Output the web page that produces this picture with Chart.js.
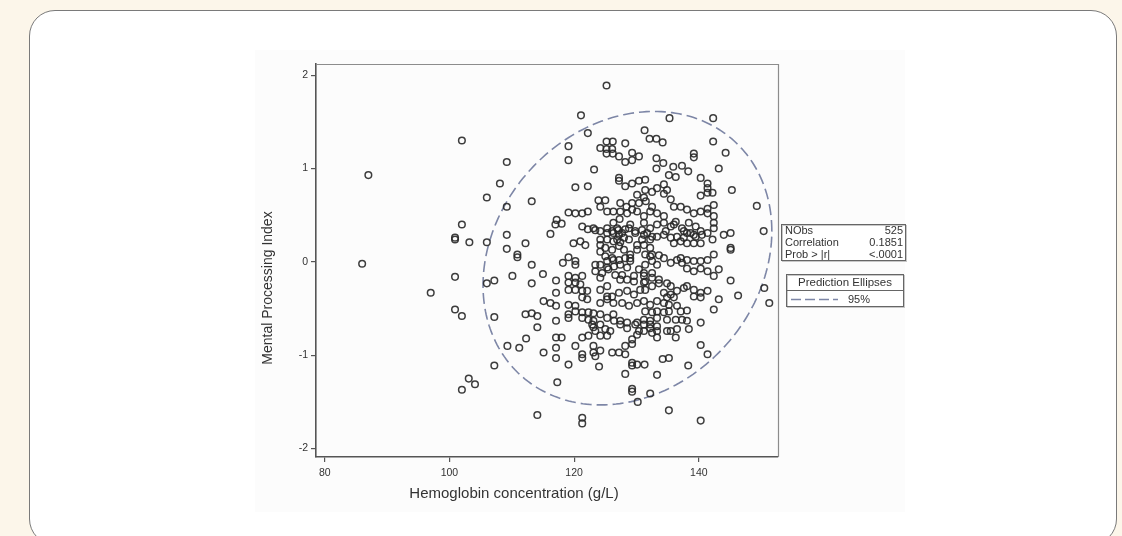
<!DOCTYPE html>
<html><head><meta charset="utf-8">
<script src="https://cdn.jsdelivr.net/npm/chart.js@4/dist/chart.umd.min.js"></script>
<style>
html,body{margin:0;padding:0;width:1122px;height:536px;overflow:hidden;background:#fcf6ea;}
#card{position:absolute;left:29px;top:10px;width:1086px;height:533px;border:1.5px solid #7a7a7a;border-radius:26px;background:#fff;}
#fig{position:absolute;left:255px;top:50px;width:650px;height:462px;background:#fcfcfc;}
#wrap{position:absolute;left:0;top:0;width:1122px;height:536px;}
</style></head><body>
<div id="card"></div><div id="fig"></div>
<div id="wrap"><canvas id="c" width="1122" height="536"></canvas></div>
<script>
// ---- data: [hemoglobin g/L, mental processing index] ----
const outerObs = [[86,-0.02],[87,0.93],[97,-0.33],[102,1.30],[100.9,0.26],[100.9,0.24],[102,0.40],[103.2,0.21],[100.9,-0.16],[100.9,-0.51],[102,-0.58],[102,-1.37],[103.1,-1.25],[104.1,-1.31],[106,-0.23],[107.2,-0.20],[106,0.69],[106,0.21],[108.1,0.84],[109.2,1.07],[109.2,0.59],[109.2,0.29],[109.2,0.14],[107.2,-0.59],[107.2,-1.11],[109.3,-0.90],[110.1,-0.15],[111.2,-0.92],[110.9,0.08],[110.9,0.05],[112.2,0.20],[113.2,0.65],[113.2,-0.03],[113.2,-0.23],[112.3,-0.82],[112.2,-0.56],[113.2,-0.55],[114.1,-0.58],[114.1,-0.70],[115,-0.13],[115.1,-0.97],[114.1,-1.64],[116.2,0.30],[115.1,-0.42],[116.2,-0.44],[117.1,-0.47],[117.1,-0.20],[117.1,-0.33],[117.1,-0.63],[117.1,-0.81],[118.0,-0.81],[117.1,-0.92],[117.1,-1.03],[117.3,-1.29],[119.1,-1.10],[121.3,-1.67],[121.3,-1.73],[124.0,-1.12],[117.2,0.45],[118.0,0.41],[117.0,0.40],[118.2,-0.01],[119.1,0.05],[120.2,0.01],[120.2,-0.03]];
const upperObs = [[125.2,1.89],[121.1,1.57],[135.3,1.54],[142.3,1.54],[122.2,1.38],[131.3,1.41],[119.1,1.24],[125.2,1.29],[126.2,1.29],[132.1,1.32],[133.2,1.32],[134.2,1.28],[142.3,1.29],[124.2,1.22],[125.2,1.21],[126.1,1.21],[125.2,1.16],[126.2,1.16],[127.2,1.13],[128.2,1.27],[129.3,1.17],[130.4,1.13],[128.2,1.07],[129.3,1.09],[139.2,1.16],[139.2,1.12],[144.3,1.17],[119.1,1.09],[133.2,1.11],[134.3,1.06],[133.2,1.00],[143.2,1.00],[123.2,0.99],[135.9,1.02],[137.3,1.03],[135.2,0.93],[136.3,0.91],[138.3,0.97],[127.2,0.90],[127.2,0.87],[130.4,0.87],[131.4,0.88],[129.3,0.84],[128.2,0.81],[120.2,0.80],[122.2,0.81],[140.3,0.90],[141.4,0.84],[141.4,0.79],[141.4,0.74],[140.3,0.71],[142.2,0.74],[145.3,0.77],[149.3,0.60],[150.4,0.33],[131.4,0.77],[132.5,0.75],[130.1,0.72],[131.2,0.69],[133.3,0.79],[134.4,0.83],[134.9,0.77],[134.4,0.73],[135.5,0.67],[128.4,0.59],[129.3,0.63],[130.4,0.63],[131.5,0.65],[132.5,0.59],[127.4,0.54],[128.5,0.52],[129.3,0.56],[123.9,0.66],[125.0,0.66],[124.2,0.59],[125.3,0.54],[126.3,0.54],[127.4,0.63],[121.3,0.52],[122.2,0.54],[119.1,0.53],[120.2,0.52]];
const midUpperObs = [[121.3,0.38],[122.2,0.35],[123.1,0.36],[125.3,0.36],[126.3,0.42],[127.3,0.46],[125.3,0.31],[126.3,0.31],[127.2,0.29],[128.2,0.35],[129.0,0.40],[130.1,0.54],[131.2,0.49],[132.2,0.54],[133.3,0.52],[134.4,0.49],[136.0,0.59],[137.1,0.59],[138.1,0.56],[139.2,0.52],[140.3,0.54],[141.4,0.57],[142.4,0.61],[131.2,0.42],[132.2,0.36],[133.3,0.40],[134.4,0.42],[135.5,0.38],[136.3,0.43],[137.3,0.36],[138.4,0.42],[139.5,0.38],[140.3,0.33],[141.4,0.31],[142.4,0.36],[138.1,0.31],[139.2,0.29],[141.4,0.52],[142.4,0.49],[142.4,0.42],[144.0,0.29],[145.1,0.31],[129.8,0.31],[131.2,0.29],[132.2,0.24],[133.3,0.27],[134.4,0.29],[135.5,0.26],[136.5,0.27],[124.2,0.24],[125.3,0.24],[126.3,0.22],[127.4,0.21],[121.0,0.22],[121.8,0.18],[119.9,0.20],[126.9,0.24],[128.0,0.26],[128.8,0.24],[130.9,0.24],[126.1,0.33],[127.1,0.34],[124.2,0.18],[125.0,0.15],[126.1,0.13],[127.2,0.17],[128.0,0.13],[130.1,0.18],[131.2,0.18],[130.1,0.13],[123.4,0.34],[124.2,0.33],[126.9,0.36],[127.7,0.31],[128.8,0.36],[129.8,0.33],[130.9,0.34],[131.7,0.31],[145.1,0.15],[145.1,0.13],[142.2,0.24],[140.5,0.29],[138.7,0.31],[139.5,0.27],[137.6,0.33],[137.6,0.26],[132.5,0.27],[134.7,0.33],[136.0,0.20],[137.1,0.22],[138.1,0.20],[139.2,0.20],[140.3,0.20],[136.0,0.40],[132.2,0.15]];
const centralObs = [[129.0,0.08],[129.0,0.04],[129.0,0.01],[124.2,0.11],[125.0,0.06],[126.1,0.04],[132.2,0.06],[131.4,-0.03],[132.5,0.01],[133.3,-0.03],[137.1,0.04],[138.1,0.02],[139.2,0.01],[119.1,-0.15],[119.1,-0.22],[120.2,-0.22],[121.0,-0.24],[119.1,-0.30],[120.2,-0.30],[121.3,-0.31],[122.1,-0.31],[123.4,-0.03],[124.2,-0.03],[125.3,0.01],[126.3,0.02],[127.2,0.02],[128.2,0.04],[123.4,-0.10],[124.5,-0.12],[125.5,-0.08],[126.6,-0.14],[127.7,-0.14],[128.5,-0.19],[129.6,-0.15],[131.4,0.08],[132.5,0.08],[133.6,0.07],[130.4,-0.08],[131.2,-0.12],[131.2,-0.15],[132.5,-0.17],[133.6,-0.23],[134.9,-0.23],[134.4,0.04],[135.5,-0.01],[136.5,0.02],[137.3,-0.01],[138.1,-0.07],[139.2,-0.10],[140.3,-0.07],[141.4,-0.10],[142.4,-0.15],[143.2,-0.08],[140.3,0.01],[141.4,0.02],[142.4,0.08],[145.1,-0.20],[146.3,-0.36],[143.2,-0.40],[150.5,-0.28],[151.3,-0.44],[138.1,-0.26],[139.2,-0.30],[140.3,-0.33],[141.4,-0.31],[139.2,-0.37],[140.3,-0.38],[124.2,-0.44],[125.3,-0.40],[126.3,-0.44],[127.7,-0.44],[128.8,-0.47],[130.1,-0.44],[131.2,-0.42],[132.2,-0.46],[133.3,-0.42],[134.4,-0.44],[134.9,-0.38],[136.0,-0.38],[122.1,-0.40],[121.3,-0.38],[119.1,-0.46],[125.3,-0.06],[126.4,-0.05],[127.4,-0.03],[128.5,-0.06],[124.2,-0.17],[127.4,-0.19],[129.6,-0.21],[124.2,-0.30],[125.3,-0.26],[125.3,-0.37],[126.1,-0.37],[127.2,-0.33],[128.5,-0.31],[129.6,-0.35],[130.6,-0.30],[131.2,-0.22],[120.2,-0.17],[121.3,-0.15],[120.2,-0.47],[132.5,-0.12],[131.4,-0.21],[131.4,-0.30],[132.5,-0.26],[133.6,-0.19],[135.5,-0.26],[134.4,-0.33],[135.5,-0.35],[136.5,-0.31],[137.6,-0.28],[135.2,-0.46],[136.5,-0.47]];
const lowerObs = [[142.4,-0.51],[140.3,-0.65],[137.1,-0.53],[138.1,-0.52],[136.3,-0.62],[137.3,-0.62],[135.2,-0.53],[138.4,-0.72],[133.3,-0.53],[134.4,-0.54],[133.3,-0.60],[132.2,-0.63],[131.2,-0.67],[132.2,-0.71],[133.3,-0.74],[131.2,-0.74],[130.1,-0.78],[133.3,-0.81],[134.9,-0.74],[136.3,-0.81],[129.3,-0.83],[129.3,-0.88],[128.2,-0.90],[131.2,-0.62],[130.1,-0.65],[128.5,-0.65],[127.4,-0.63],[123.1,-0.55],[124.2,-0.56],[125.3,-0.60],[126.3,-0.56],[123.1,-0.63],[124.2,-0.67],[125.0,-0.72],[124.2,-0.79],[125.3,-0.79],[119.1,-0.60],[120.2,-0.53],[121.3,-0.60],[122.3,-0.62],[122.3,-0.79],[121.3,-0.81],[123.1,-0.70],[120.2,-0.90],[121.3,-0.99],[121.3,-1.03],[123.1,-0.90],[123.1,-0.97],[124.2,-0.95],[123.4,-1.01],[126.1,-0.97],[127.2,-0.97],[128.2,-0.99],[129.3,-1.08],[129.3,-1.11],[130.1,-1.10],[131.3,-1.10],[128.2,-1.20],[133.3,-1.21],[134.2,-1.04],[135.2,-1.03],[138.3,-1.11],[140.3,-0.89],[141.4,-0.99],[129.3,-1.36],[129.3,-1.39],[132.2,-1.41],[130.2,-1.50],[135.2,-1.59],[140.3,-1.70],[119.1,-0.56],[121.3,-0.54],[122.3,-0.54],[126.4,-0.63],[122.9,-0.67],[123.4,-0.74],[125.8,-0.74],[127.4,-0.67],[128.5,-0.71],[129.8,-0.67],[130.4,-0.74],[131.4,-0.53],[132.5,-0.54],[138.1,-0.63],[134.9,-0.62],[132.2,-0.67],[133.3,-0.69],[132.5,-0.76],[135.5,-0.74],[136.5,-0.72]];

const xTicks = [80, 100, 120, 140];
const yTicks = [-2, -1, 0, 1, 2];
const xTitle = 'Hemoglobin concentration (g/L)';
const yTitle = 'Mental Processing Index';
const statLabels = ['NObs', 'Correlation', 'Prob > |r|'];
const statValues = ['525', '0.1851', '<.0001'];
const legendTitle = 'Prediction Ellipses';
const legendLabel = '95%';
// bivariate summary used for the 95% prediction ellipse
const ellipseMean = [128.55, 0.04];
const ellipseSD = [9.43, 0.64];
const ellipseCorr = 0.1851;
const ellipseScale = 2.456;

const allObs = [].concat(outerObs, upperObs, midUpperObs, centralObs, lowerObs)
  .map(p => ({x: p[0], y: p[1]}));

const ellipsePts = [];
for (let i = 0; i <= 240; i++) {
  const t = i / 240 * 2 * Math.PI;
  ellipsePts.push({
    x: ellipseMean[0] + ellipseScale * ellipseSD[0] * Math.cos(t),
    y: ellipseMean[1] + ellipseScale * ellipseSD[1] * (ellipseCorr * Math.cos(t) + Math.sqrt(1 - ellipseCorr * ellipseCorr) * Math.sin(t))
  });
}

const NARROW = '"Liberation Sans Narrow", "Liberation Sans", Arial, sans-serif';
const REG = '"Liberation Sans", Arial, sans-serif';
const ELL_COLOR = '#7d86a6';

const decor = {
  id: 'decor',
  afterDraw(chart) {
    const {ctx, chartArea: a} = chart;
    ctx.save();
    ctx.strokeStyle = '#8c8c8c'; ctx.lineWidth = 1.2;
    ctx.beginPath(); ctx.moveTo(a.left, a.top + 0.5); ctx.lineTo(a.right + 0.5, a.top + 0.5); ctx.lineTo(a.right + 0.5, a.bottom); ctx.stroke();
    // axis titles
    ctx.fillStyle = '#333';
    ctx.textAlign = 'center'; ctx.textBaseline = 'middle';
    ctx.font = '15px ' + NARROW;
    ctx.fillText(xTitle, 514, 494);
    ctx.save();
    ctx.translate(268, 288); ctx.rotate(-Math.PI / 2);
    ctx.font = '14px ' + REG;
    ctx.fillText(yTitle, 0, 0);
    ctx.restore();
    // stats box
    ctx.fillStyle = '#fff';
    ctx.fillRect(781, 224, 125, 37);
    ctx.strokeStyle = '#c8c8c8'; ctx.lineWidth = 1;
    ctx.strokeRect(782.5, 225.5, 124, 36);
    ctx.strokeStyle = '#666';
    ctx.strokeRect(781.5, 224.5, 124, 36);
    ctx.fillStyle = '#333';
    ctx.font = '11px ' + NARROW;
    ctx.textBaseline = 'middle';
    statLabels.forEach((s, i) => {
      ctx.textAlign = 'left'; ctx.fillText(s, 785, 231 + i * 12);
      ctx.textAlign = 'right'; ctx.fillText(statValues[i], 903, 231 + i * 12);
    });
    // ellipse legend box
    ctx.fillStyle = '#fff';
    ctx.fillRect(786, 274, 118, 33);
    ctx.strokeStyle = '#c8c8c8';
    ctx.strokeRect(787.5, 275.5, 117, 32);
    ctx.strokeStyle = '#666';
    ctx.strokeRect(786.5, 274.5, 117, 32);
    ctx.beginPath(); ctx.moveTo(786.5, 290.5); ctx.lineTo(903.5, 290.5); ctx.stroke();
    ctx.fillStyle = '#333';
    ctx.textAlign = 'center';
    ctx.font = '11.5px ' + NARROW;
    ctx.fillText(legendTitle, 845, 283);
    ctx.strokeStyle = ELL_COLOR; ctx.lineWidth = 1.6;
    ctx.setLineDash([10, 4]);
    ctx.beginPath(); ctx.moveTo(791, 299.5); ctx.lineTo(838, 299.5); ctx.stroke();
    ctx.setLineDash([]);
    ctx.textAlign = 'left';
    ctx.font = '11px ' + NARROW;
    ctx.fillText(legendLabel, 848, 299.5);
    ctx.restore();
  }
};

new Chart(document.getElementById('c'), {
  type: 'scatter',
  data: {
    datasets: [
      {
        data: allObs,
        pointStyle: 'circle',
        pointRadius: 3.3,
        pointBorderWidth: 1.5,
        pointBorderColor: 'rgba(40,40,40,0.9)',
        pointBackgroundColor: 'rgba(0,0,0,0)',
        showLine: false
      },
      {
        data: ellipsePts,
        showLine: true,
        pointRadius: 0,
        borderColor: ELL_COLOR,
        borderWidth: 1.6,
        borderDash: [11, 5],
        fill: false,
        tension: 0
      }
    ]
  },
  options: {
    responsive: false,
    animation: false,
    events: [],
    layout: {padding: {left: 276, right: 344, top: 64, bottom: 39}},
    plugins: {legend: {display: false}, tooltip: {enabled: false}},
    scales: {
      x: {
        type: 'linear', min: 78.6, max: 152.7,
        afterBuildTicks: s => { s.ticks = xTicks.map(v => ({value: v})); },
        afterFit: s => { s.height = 40; },
        ticks: {font: {size: 10.5, family: NARROW}, color: '#333', padding: 5},
        grid: {drawOnChartArea: false, drawTicks: true, tickLength: 5, color: '#555', lineWidth: 1.2},
        border: {display: true, color: '#555', width: 1.6}
      },
      y: {
        type: 'linear', min: -2.09, max: 2.12,
        afterBuildTicks: s => { s.ticks = yTicks.map(v => ({value: v})); },
        afterFit: s => { s.width = 40; },
        ticks: {font: {size: 10.5, family: NARROW}, color: '#333', padding: 3},
        grid: {drawOnChartArea: false, drawTicks: true, tickLength: 5, color: '#555', lineWidth: 1.2},
        border: {display: true, color: '#555', width: 1.6}
      }
    }
  },
  plugins: [decor]
});
</script></body></html>
